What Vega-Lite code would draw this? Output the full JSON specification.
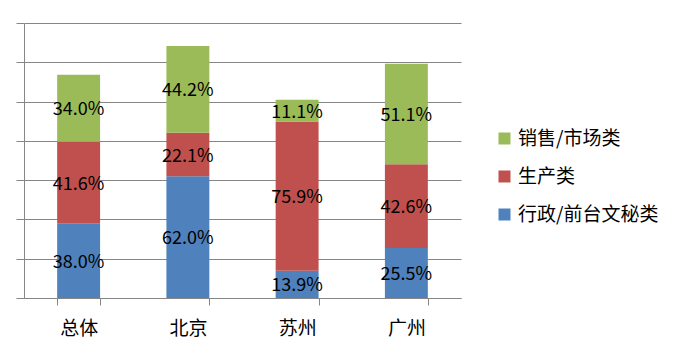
{
  "$schema": "https://vega.github.io/schema/vega-lite/v6.json",
  "width": 437,
  "height": 275,
  "autosize": {"type": "none"},
  "padding": {"left": 24, "top": 23, "right": 226, "bottom": 55},
  "background": "white",
  "data": {
    "values": [
      {"城市": "总体", "类别": "行政/前台文秘类", "占比": 38.0},
      {"城市": "总体", "类别": "生产类", "占比": 41.6},
      {"城市": "总体", "类别": "销售/市场类", "占比": 34.0},
      {"城市": "北京", "类别": "行政/前台文秘类", "占比": 62.0},
      {"城市": "北京", "类别": "生产类", "占比": 22.1},
      {"城市": "北京", "类别": "销售/市场类", "占比": 44.2},
      {"城市": "苏州", "类别": "行政/前台文秘类", "占比": 13.9},
      {"城市": "苏州", "类别": "生产类", "占比": 75.9},
      {"城市": "苏州", "类别": "销售/市场类", "占比": 11.1},
      {"城市": "广州", "类别": "行政/前台文秘类", "占比": 25.5},
      {"城市": "广州", "类别": "生产类", "占比": 42.6},
      {"城市": "广州", "类别": "销售/市场类", "占比": 51.1}
    ]
  },
  "transform": [
    {"calculate": "indexof(['行政/前台文秘类','生产类','销售/市场类'], datum['类别'])", "as": "k"},
    {"stack": "占比", "groupby": ["城市"], "sort": [{"field": "k", "order": "ascending"}], "as": ["y0", "y1"]},
    {"calculate": "(datum.y0 + datum.y1) / 2", "as": "mid"},
    {"calculate": "format(datum['占比'], '.1f') + '%'", "as": "标签"}
  ],
  "encoding": {
    "x": {
      "field": "城市", "type": "nominal", "sort": ["总体", "北京", "苏州", "广州"],
      "scale": {"paddingInner": 0.607, "paddingOuter": 0.3035},
      "axis": {
        "title": null, "labelAngle": 0, "tickBand": "extent",
        "labelFont": "Noto Sans CJK SC", "labelFontSize": 19, "labelColor": "#000000",
        "labelPadding": 14, "tickSize": 7, "tickColor": "#868686", "domainColor": "#868686",
        "grid": false
      }
    }
  },
  "layer": [
    {
      "mark": {"type": "bar"},
      "encoding": {
        "y": {
          "field": "y0", "type": "quantitative",
          "scale": {"domain": [0, 140], "nice": false},
          "axis": {
            "title": null, "labels": false, "values": [0, 20, 40, 60, 80, 100, 120, 140],
            "tickSize": 8, "tickColor": "#868686", "domainColor": "#868686",
            "grid": true, "gridColor": "#868686", "gridOpacity": 1
          }
        },
        "y2": {"field": "y1"},
        "color": {
          "field": "类别", "type": "nominal",
          "scale": {
            "domain": ["销售/市场类", "生产类", "行政/前台文秘类"],
            "range": ["#9BBB59", "#C0504D", "#4F81BD"]
          },
          "legend": {
            "title": null, "orient": "none", "legendX": 471, "legendY": 106,
            "symbolType": "square", "symbolSize": 144, "symbolStrokeWidth": 0,
            "labelFont": "Noto Sans CJK SC", "labelFontSize": 19, "labelColor": "#000000",
            "labelOffset": 4, "rowPadding": 18, "padding": 0
          }
        }
      }
    },
    {
      "mark": {"type": "text", "font": "Noto Sans CJK SC", "fontSize": 18, "color": "#000000", "baseline": "middle", "dy": 2},
      "encoding": {
        "y": {
          "field": "mid", "type": "quantitative",
          "scale": {"domain": [0, 140], "nice": false},
          "axis": {
            "title": null, "labels": false, "values": [0, 20, 40, 60, 80, 100, 120, 140],
            "tickSize": 8, "tickColor": "#868686", "domainColor": "#868686",
            "grid": true, "gridColor": "#868686", "gridOpacity": 1
          }
        },
        "text": {"field": "标签", "type": "nominal"}
      }
    }
  ],
  "config": {"view": {"stroke": null}}
}
